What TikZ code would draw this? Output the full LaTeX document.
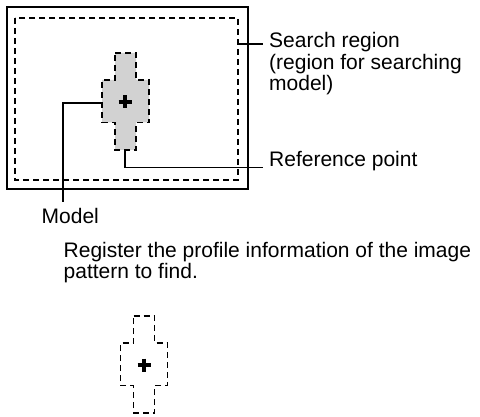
\documentclass[tikz,border=0pt]{standalone}
\usepackage{fontspec}
\setmainfont{Liberation Sans}
\definecolor{modelgray}{RGB}{210,210,210}
\begin{document}
\begin{tikzpicture}[x=1pt,y=-1pt,
  frame/.style={line width=2pt},
  dashline/.style={line width=1.1pt, dash pattern=on 6pt off 4pt},
  leader/.style={line width=1.2pt},
  lbl/.style={inner sep=0pt, anchor=base west, align=left, font=\fontsize{21}{21.6}\selectfont},
  crossmark/.style={line width=3.6pt},
  modelshape/.style={insert path={(-10.5,-49) -- (10.5,-49) -- (10.5,-22) -- (23.5,-22) -- (23.5,20.5) -- (10.5,20.5) -- (10.5,48) -- (-10.5,48) -- (-10.5,20.5) -- (-23.5,20.5) -- (-23.5,-22) -- (-10.5,-22) -- cycle}}]
\useasboundingbox (0,0) rectangle (480,417);
% search window
\draw[frame] (7,7) rectangle (248,189);
\draw[dashline] (15,18) rectangle (238,180);
% model in the window
\path[dashline, draw, fill=modelgray, shift={(125.5,102)}, modelshape];
\draw[crossmark] (118.5,102) -- (131.5,102) (125,95.5) -- (125,108.5);
% registered model
\path[dashline, draw, shift={(144,365)}, modelshape];
\draw[crossmark] (137.5,365) -- (150.5,365) (144,358.5) -- (144,371.5);
% labels (base = baseline of the last line)
\node[lbl] (searchlbl) at (269,90.7) {Search region\\(region for searching\\model)};
\node[lbl] (reflbl) at (269,166.5) {Reference point};
\node[lbl] (modellbl) at (41.5,224) {Model};
\node[lbl] (reglbl) at (63.5,278.6) {Register the profile information of the image\\pattern to find.};
% leader coordinates
\coordinate (searchedge) at (238,44);
\coordinate (searchtip) at (263,44);
\coordinate (modelbottom) at (125,150);
\coordinate (refcorner) at (125,167.5);
\coordinate (reftip) at (263,167.5);
\coordinate (modelleft) at (102,103);
\coordinate (modelcorner) at (63,103);
\coordinate (modeltip) at (63,202);
\draw[leader] (searchedge) -- (searchtip);
\draw[leader] (modelbottom) -- (refcorner) -- (reftip);
\draw[leader] (modelleft) -- (modelcorner) -- (modeltip);
\end{tikzpicture}
\end{document}
